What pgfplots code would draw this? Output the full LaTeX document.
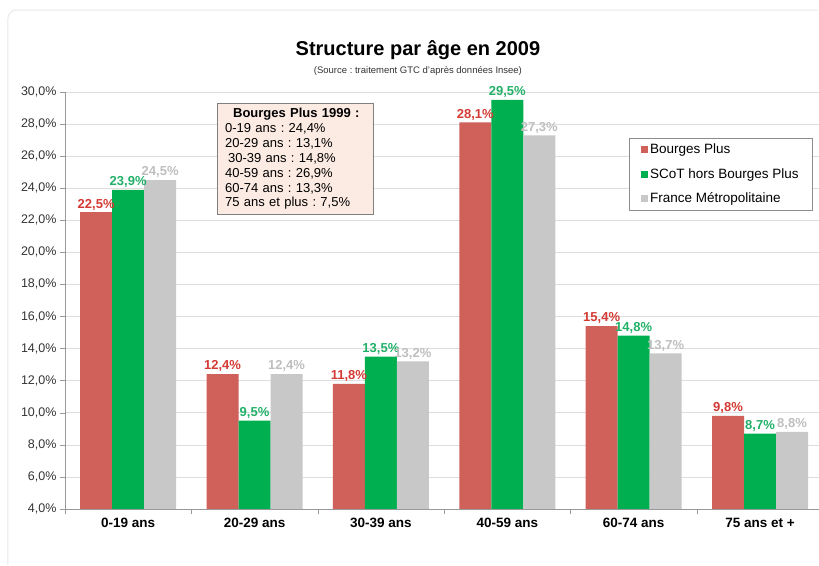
\documentclass[border=0pt]{standalone}
\usepackage{pgfplots}
\pgfplotsset{compat=1.18}
\usepackage{fontspec}
\setmainfont{Liberation Sans}
\frenchspacing
\definecolor{cred}{HTML}{D0605A}
\definecolor{cgreen}{HTML}{00B050}
\definecolor{cgray}{HTML}{C8C8C8}
\definecolor{lred}{HTML}{D43A34}
\definecolor{lgreen}{HTML}{22B068}
\definecolor{lgray}{HTML}{BEBEBE}
\definecolor{peach}{HTML}{FCEBE3}
\begin{document}
\frenchspacing
\begin{tikzpicture}
\begin{axis}[
  scale only axis, width=754pt, height=417pt,
  clip=false,
  xmin=-0.5, xmax=5.465,
  ymin=4, ymax=30,
  ybar=0pt, bar width=32pt,
  axis x line*=bottom, axis y line*=left,
  axis line style={draw=black!40},
  xtick={0,...,5},
  xticklabels={0-19 ans,20-29 ans,30-39 ans,40-59 ans,60-74 ans,75 ans et +},
  major x tick style={draw=none},
  minor xtick={-0.5,0.5,1.5,2.5,3.5,4.5},
  minor x tick style={draw=black!40},
  minor tick length=5pt,
  ytick={4,6,...,30},
  major tick length=5pt,
  tick align=outside,
  y tick style={draw=black!40},
  ymajorgrids, grid style={draw=black!13},
  /pgf/number format/assume math mode=true,
  yticklabel={\pgfmathprintnumber[fixed,fixed zerofill,precision=1,use comma]{\tick}\%},
  yticklabel style={font=\fontsize{12.5}{14}\selectfont, text=black!80},
  xticklabel style={font=\bfseries\fontsize{13.5}{15}\selectfont, yshift=-1pt},
  nodes near coords={\pgfmathprintnumber[fixed,fixed zerofill,precision=1,use comma]{\pgfplotspointmeta}\%},
  every node near coord/.append style={font=\bfseries\fontsize{13}{15}\selectfont, inner sep=2pt},
  legend style={at={(0.992,0.8897)}, anchor=north east, draw=black!45, font=\fontsize{13.5}{15}\selectfont, inner xsep=12pt, inner ysep=4pt, row sep=9pt, cells={anchor=west}},
  legend image code/.code={\fill[#1] (0pt,-3.5pt) rectangle (7pt,3.5pt);},
]
\addplot[fill=cred, draw=none, every node near coord/.append style={text=lred}] coordinates {(0,22.5) (1,12.4) (2,11.8) (3,28.1) (4,15.4) (5,9.8)};
\addplot[fill=cgreen, draw=none, every node near coord/.append style={text=lgreen}] coordinates {(0,23.9) (1,9.5) (2,13.5) (3,29.5) (4,14.8) (5,8.7)};
\addplot[fill=cgray, draw=none, every node near coord/.append style={text=lgray}] coordinates {(0,24.5) (1,12.4) (2,13.2) (3,27.3) (4,13.7) (5,8.8)};
\legend{Bourges Plus, SCoT hors Bourges Plus, France Métropolitaine}
\path (rel axis cs:-0.0862,-0.1367) rectangle (rel axis cs:1,1.2206);
\draw[black!9, line width=1pt, rounded corners=8pt] (rel axis cs:-0.0756,-0.135) -- (rel axis cs:-0.0756,1.1966) -- (rel axis cs:0.999,1.1966);
\node[font=\bfseries\fontsize{20}{22}\selectfont] at (rel axis cs:0.4682,1.1007) {Structure par âge en 2009};
\node[font=\fontsize{9.5}{11}\selectfont, text=black!80] at (rel axis cs:0.4682,1.0504) {(Source : traitement GTC d'après données Insee)};
\node[anchor=north west, draw=black!50, fill=peach, inner xsep=8pt, inner ysep=5pt, text width=140pt, align=left, font=\fontsize{13}{14.9}\selectfont] at (rel axis cs:0.2016,0.9736) {\hspace*{8pt}\textbf{Bourges Plus 1999 :}\\
0-19 ans : 24,4\%\\
20-29 ans : 13,1\%\\
\hspace*{3pt}30-39 ans : 14,8\%\\
40-59 ans : 26,9\%\\
60-74 ans : 13,3\%\\
75 ans et plus : 7,5\%};
\end{axis}
\end{tikzpicture}
\end{document}
